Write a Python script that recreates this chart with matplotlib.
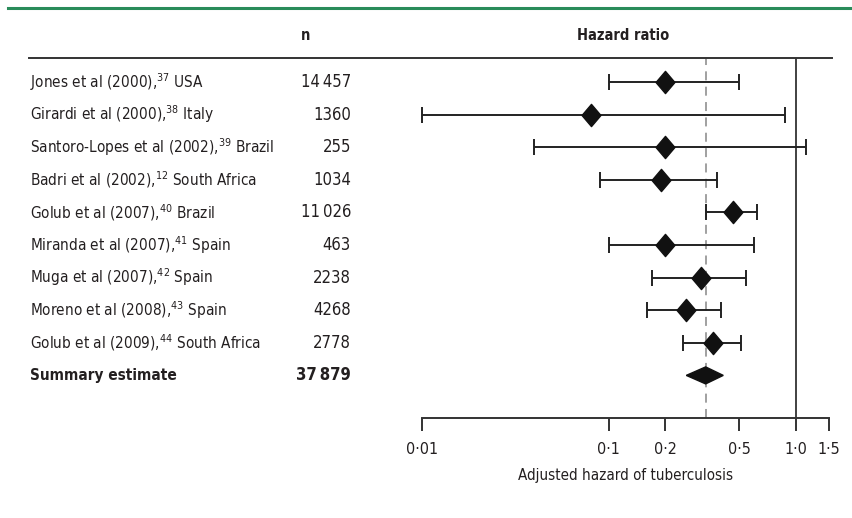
import matplotlib
matplotlib.use("Agg")
import matplotlib.pyplot as plt
from matplotlib.transforms import blended_transform_factory
from matplotlib.patches import Polygon
from matplotlib.path import Path
import matplotlib.lines as mlines

plt.rcParams['font.family'] = ['DejaVu Sans']
plt.rcParams['font.stretch'] = 'condensed'
plt.rcParams['mathtext.fontset'] = 'custom'
plt.rcParams['mathtext.rm'] = 'DejaVu Sans:stretch=condensed'
plt.rcParams['mathtext.it'] = 'DejaVu Sans:stretch=condensed'

# ---- data ----
studies = ["Jones et al (2000),", "Girardi et al (2000),", "Santoro-Lopes et al (2002),",
           "Badri et al (2002),", "Golub et al (2007),", "Miranda et al (2007),",
           "Muga et al (2007),", "Moreno et al (2008),", "Golub et al (2009),"]
refs = ["37", "38", "39", "12", "40", "41", "42", "43", "44"]
countries = ["USA", "Italy", "Brazil", "South Africa", "Brazil", "Spain", "Spain", "Spain", "South Africa"]
n_values = ["14\u2009457", "1360", "255", "1034", "11\u2009026", "463", "2238", "4268", "2778"]
hr = [0.20, 0.08, 0.20, 0.19, 0.46, 0.20, 0.31, 0.26, 0.36]
ci_low = [0.10, 0.01, 0.04, 0.09, 0.33, 0.10, 0.17, 0.16, 0.25]
ci_high = [0.50, 0.88, 1.14, 0.38, 0.62, 0.60, 0.54, 0.40, 0.51]
summary_label = "Summary estimate"
summary_n = "37\u2009879"
summary_hr = 0.33
summary_low = 0.26
summary_high = 0.41
tick_values = [0.01, 0.1, 0.2, 0.5, 1.0, 1.5]
tick_labels = ["0·01", "0·1", "0·2", "0·5", "1·0", "1·5"]

W, H = 853, 518
fig = plt.figure(figsize=(W / 100, H / 100), dpi=100)
txt = '#231f20'

# forest axes
left = 421.7 / W
right = 828.6 / W
top_px, bot_px = 58, 418
ax = fig.add_axes([left, 1 - bot_px / H, right - left, (bot_px - top_px) / H])
ax.set_xscale('log')
ax.set_xlim(0.01, 1.5)
row0, step = 82.0, 32.6
ax.set_ylim((bot_px - row0) / step, (top_px - row0) / step)
for s in ['top', 'right', 'left']:
    ax.spines[s].set_visible(False)
ax.spines['bottom'].set_linewidth(1.4)
ax.spines['bottom'].set_color('#333333')
ax.set_yticks([])
ax.xaxis.set_minor_locator(matplotlib.ticker.NullLocator())
ax.set_xticks(tick_values)
ax.set_xticklabels(tick_labels, fontsize=11.5, color=txt)
ax.tick_params(axis='x', direction='out', length=9, width=1.4, color='#333333', pad=8)
ax.set_xlabel("Adjusted hazard of tuberculosis", fontsize=10.9, color=txt, labelpad=8)
ax.patch.set_alpha(0)

# reference lines
ax.axvline(1.0, color='#333333', lw=1.3, zorder=1)
ax.axvline(summary_hr, color='#999999', lw=1.3, ls=(0, (5, 3.5)), zorder=1)

# markers
diamond = Path([(0, 1), (0.85, 0), (0, -1), (-0.85, 0), (0, 1)],
               [Path.MOVETO, Path.LINETO, Path.LINETO, Path.LINETO, Path.CLOSEPOLY])
rows = list(range(len(studies)))
for i in rows:
    ax.errorbar([hr[i]], [i], xerr=[[hr[i] - ci_low[i]], [ci_high[i] - hr[i]]],
                fmt='none', ecolor='#222222', elinewidth=1.4, capsize=6, capthick=1.4,
                zorder=2, clip_on=False)
ax.plot(hr, rows, linestyle='none', marker=diamond, markersize=16,
        color='#111111', zorder=3, clip_on=False)

sy = len(studies)
hh = 8.5 / step
ax.add_patch(Polygon([(summary_low, sy), (summary_hr, sy - hh), (summary_high, sy),
                      (summary_hr, sy + hh)], closed=True, color='#111111', zorder=3))

# left table
tr = blended_transform_factory(fig.transFigure, ax.transData)
for i in rows:
    lab = f"{studies[i]}$^{{\\mathregular{{{refs[i]}}}}}$ {countries[i]}"
    ax.text(30 / W, i, lab, transform=tr, fontsize=11, color=txt, va='center', ha='left')
    ax.text(351 / W, i, n_values[i], transform=tr, fontsize=12, color=txt,
            va='center', ha='right')
ax.text(30 / W, sy, summary_label, transform=tr, fontsize=11, color=txt,
        va='center', ha='left', fontweight='bold')
ax.text(351 / W, sy, summary_n, transform=tr, fontsize=12, color=txt,
        va='center', ha='right', fontweight='bold')

# headers
fig.text(306 / W, 1 - 36 / H, "n", fontsize=10.5, fontweight='bold', color=txt,
         ha='center', va='center')
fig.text(623 / W, 1 - 36 / H, "Hazard ratio", fontsize=10.5, fontweight='bold', color=txt,
         ha='center', va='center')

# horizontal rules
fig.add_artist(mlines.Line2D([29 / W, 832 / W], [1 - 58 / H, 1 - 58 / H],
                             color='#333333', lw=1.4, transform=fig.transFigure))
fig.add_artist(mlines.Line2D([8 / W, 1.0], [1 - 8 / H, 1 - 8 / H],
                             color='#2a8c5a', lw=2.2, transform=fig.transFigure))

fig.savefig("out.png", dpi=100)
